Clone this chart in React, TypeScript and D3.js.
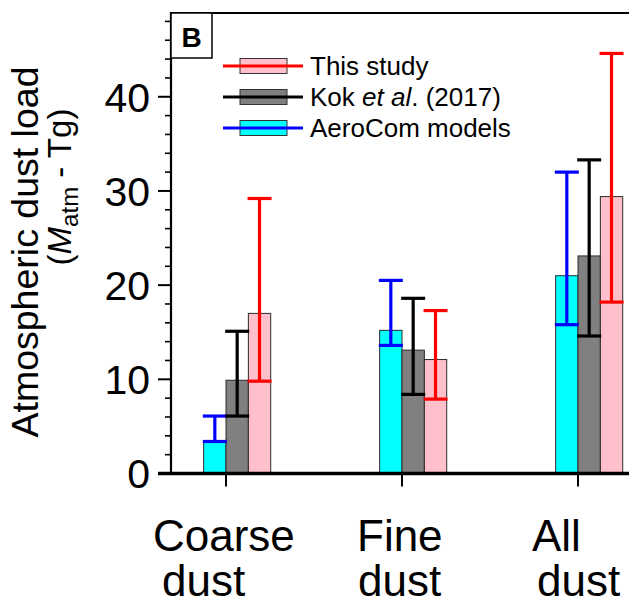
import React from 'react';
import * as d3 from 'd3';

// categories along the x axis (index 1..3)
const categories = ['Coarse dust', 'Fine dust', 'All dust'];
const categoryLines = [['Coarse', 'dust'], ['Fine', 'dust'], ['All', 'dust']];

// series, in draw order (left to right inside a group)
const seriesNames = ['AeroCom models', 'Kok et al. (2017)', 'This study'];
const aerocomValues = [3.4, 15.2, 21.0];
const aerocomLow = [3.4, 13.6, 15.8];
const aerocomHigh = [6.1, 20.5, 32.0];
const kokValues = [9.9, 13.1, 23.1];
const kokLow = [6.1, 8.4, 14.6];
const kokHigh = [15.1, 18.6, 33.3];
const studyValues = [17.0, 12.1, 29.4];
const studyLow = [9.8, 7.9, 18.2];
const studyHigh = [29.2, 17.3, 44.6];

const yMajorTicks = [0, 10, 20, 30, 40];
const yMinorTicks = [2, 4, 6, 8, 12, 14, 16, 18, 22, 24, 26, 28, 32, 34, 36, 38, 42, 44, 46, 48];

const fills = ['#00FFFF', '#808080', '#FFC0CB'];
const strokes = ['#0000FF', '#000000', '#FF0000'];

const W = 629;
const H = 606;
const FONT = '"Liberation Sans", Arial, Helvetica, sans-serif';

// x-label line offsets from the tick (left aligned)
const labelDx = [[-73, -64], [-45, -44], [-46, -41]];

export default function App() {
  const left = 171;
  const top = 12;
  const bottom = 473.5;

  const x = d3.scaleLinear().domain([0.6875, 3.3125]).range([left, 633]);
  const y = d3.scaleLinear().domain([0, 49]).range([bottom, top]);

  const barW = 0.127; // in category units
  const px = (v: number) => x(v) - x(0);
  const capHalf = 12;

  const series = [
    { values: aerocomValues, low: aerocomLow, high: aerocomHigh },
    { values: kokValues, low: kokLow, high: kokHigh },
    { values: studyValues, low: studyLow, high: studyHigh },
  ];

  const center = (ci: number, si: number) => x(ci + 1 + (si - 0.5) * barW);

  const legendRows = [2, 1, 0];

  return (
    <svg width={W} height={H} style={{ position: 'absolute', left: 0, top: 0, background: '#fff' }} fontFamily={FONT}>
      {/* bars */}
      {series.map((s, si) =>
        s.values.map((v, ci) => (
          <rect
            key={`b${si}-${ci}`}
            x={center(ci, si) - px(barW) / 2}
            y={y(v)}
            width={px(barW)}
            height={y(0) - y(v)}
            fill={fills[si]}
            stroke="#2a2a2a"
            strokeWidth={1}
          />
        ))
      )}
      {/* error bars */}
      {series.map((s, si) =>
        s.values.map((_, ci) => {
          const cx = center(ci, si);
          return (
            <g key={`e${si}-${ci}`} stroke={strokes[si]} strokeWidth={3.2}>
              <line x1={cx} x2={cx} y1={y(s.low[ci])} y2={y(s.high[ci])} />
              <line x1={cx - capHalf} x2={cx + capHalf} y1={y(s.low[ci])} y2={y(s.low[ci])} />
              <line x1={cx - capHalf} x2={cx + capHalf} y1={y(s.high[ci])} y2={y(s.high[ci])} />
            </g>
          );
        })
      )}

      {/* frame */}
      <line x1={left} x2={W} y1={top + 1} y2={top + 1} stroke="#000" strokeWidth={2} />
      <line x1={left} x2={left} y1={top} y2={bottom} stroke="#000" strokeWidth={2.2} />
      <line x1={left - 13} x2={W} y1={bottom} y2={bottom} stroke="#000" strokeWidth={3.4} />

      {/* y ticks */}
      {yMajorTicks.map((t) => (
        <g key={`yt${t}`}>
          <line x1={left - 13} x2={left} y1={y(t)} y2={y(t)} stroke="#000" strokeWidth={2} />
          <text x={150} y={y(t)} dy="0.36em" textAnchor="end" fontSize={41} fill="#000">
            {t}
          </text>
        </g>
      ))}
      {yMinorTicks.map((t) => (
        <line key={`ym${t}`} x1={left - 6} x2={left} y1={y(t)} y2={y(t)} stroke="#000" strokeWidth={1.6} />
      ))}

      {/* x ticks and labels */}
      {categories.map((c, ci) => (
        <g key={c}>
          <line x1={x(ci + 1)} x2={x(ci + 1)} y1={bottom} y2={bottom + 13} stroke="#000" strokeWidth={2} />
          {categoryLines[ci].map((ln, li) => (
            <text key={ln + li} x={x(ci + 1) + labelDx[ci][li]} y={551 + li * 45} fontSize={44} fill="#000">
              {ln}
            </text>
          ))}
        </g>
      ))}

      {/* y axis title */}
      <text transform="translate(38,252) rotate(-90)" textAnchor="middle" fontSize={37.5} fill="#000">
        Atmospheric dust load
      </text>
      <text transform="translate(71,187) rotate(-90)" textAnchor="middle" fontSize={33} fill="#000">
        (<tspan fontStyle="italic">M</tspan>
        <tspan fontSize={24} dy={7}>atm</tspan>
        <tspan dy={-7}> - Tg)</tspan>
      </text>

      {/* panel letter */}
      <rect x={left} y={top + 1} width={41} height={45} fill="#fff" stroke="#000" strokeWidth={1.5} />
      <text x={left + 20.5} y={top + 35} textAnchor="middle" fontSize={28} fontWeight="bold" fill="#000">
        B
      </text>

      {/* legend */}
      {legendRows.map((si, ri) => {
        const ly = 66 + ri * 31;
        return (
          <g key={`lg${si}`}>
            <rect x={240} y={ly - 7.5} width={47} height={15} fill={fills[si]} stroke="#333" strokeWidth={1} />
            <line x1={223} x2={303} y1={ly} y2={ly} stroke={strokes[si]} strokeWidth={3.2} />
            <text x={310} y={ly} dy="0.36em" fontSize={26} fill="#000">
              {si === 1 ? (
                <>
                  Kok <tspan fontStyle="italic">et al</tspan>. (2017)
                </>
              ) : (
                seriesNames[si]
              )}
            </text>
          </g>
        );
      })}
    </svg>
  );
}
